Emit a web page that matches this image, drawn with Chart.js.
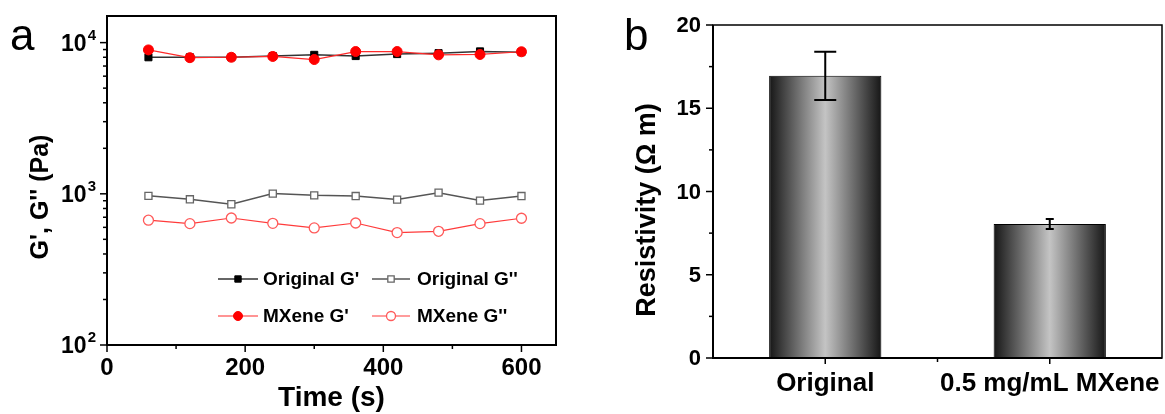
<!DOCTYPE html>
<html><head><meta charset="utf-8">
<script src="https://cdn.jsdelivr.net/npm/chart.js@4.4.1/dist/chart.umd.min.js"></script>
<style>
html,body{margin:0;padding:0;background:#fff;}
#wrap{position:relative;width:1165px;height:414px;overflow:hidden;background:#fff;}
#ca{position:absolute;left:0;top:0;}
#cb{position:absolute;left:580px;top:0;}
</style></head>
<body><div id="wrap"><canvas id="ca" width="580" height="414"></canvas><canvas id="cb" width="585" height="414"></canvas></div>
<script>
// ---- data (panel a) ----
const timeS = [60, 120, 180, 240, 300, 360, 420, 480, 540, 600];
const originalGp = [8000, 8000, 8000, 8150, 8300, 8150, 8400, 8520, 8750, 8650];
const originalGpp = [970, 920, 853, 1003, 977, 967, 916, 1018, 902, 967];
const mxeneGp = [8950, 7950, 8000, 8100, 7730, 8730, 8730, 8300, 8350, 8700];
const mxeneGpp = [669, 635, 692, 638, 595, 641, 554, 565, 635, 689];
const seriesNames = ["Original G'", "Original G''", "MXene G'", "MXene G''"];
const logTicks = [100, 1000, 10000];
const timeTicks = [0, 200, 400, 600];
// ---- data (panel b) ----
const barCategories = ['Original', '0.5 mg/mL MXene'];
const resistivity = [16.95, 8.05];
const resistivityErr = [1.45, 0.3];
const resTicks = [0, 5, 10, 15, 20];

const FONT = '"Liberation Sans", Arial, sans-serif';
const pts = (ys) => timeS.map((t, i) => ({x: t, y: ys[i]}));

function drawSupLabel(ctx, xRight, y, base, exp) {
  ctx.font = 'bold 15px ' + FONT;
  const ew = ctx.measureText(exp).width;
  ctx.textAlign = 'left'; ctx.textBaseline = 'alphabetic';
  ctx.fillText(exp, xRight - ew, y - 3);
  ctx.font = 'bold 23px ' + FONT;
  ctx.textAlign = 'right'; ctx.textBaseline = 'middle';
  ctx.fillText(base, xRight - ew - 1, y + 2);
}

const panelA = {
  id: 'panelA',
  afterDraw(chart) {
    const ctx = chart.ctx;
    const {left, right, top, bottom} = chart.chartArea;
    const xs = chart.scales.x, ys = chart.scales.y;
    ctx.save();
    ctx.fillStyle = '#000'; ctx.strokeStyle = '#000';
    ctx.lineWidth = 2;
    ctx.strokeRect(left, top, right - left, bottom - top);
    // y ticks (log)
    ctx.lineWidth = 1.5;
    for (let d = 0; d < logTicks.length; d++) {
      const dec = logTicks[d];
      for (let m = 1; m <= 9; m++) {
        const v = m * dec;
        if (v > ys.max) break;
        const py = ys.getPixelForValue(v);
        const len = m === 1 ? 7 : 4;
        ctx.beginPath(); ctx.moveTo(left - len, py); ctx.lineTo(left, py); ctx.stroke();
      }
    }
    logTicks.forEach(v => {
      drawSupLabel(ctx, left - 11, ys.getPixelForValue(v), '10', String(Math.round(Math.log10(v))));
    });
    // x ticks
    for (let i = 0; i < timeTicks.length; i++) {
      const px = xs.getPixelForValue(timeTicks[i]);
      ctx.beginPath(); ctx.moveTo(px, bottom); ctx.lineTo(px, bottom + 7); ctx.stroke();
      if (i < timeTicks.length - 1) {
        const mx = xs.getPixelForValue((timeTicks[i] + timeTicks[i + 1]) / 2);
        ctx.beginPath(); ctx.moveTo(mx, bottom); ctx.lineTo(mx, bottom + 4); ctx.stroke();
      }
      ctx.font = 'bold 24px ' + FONT;
      ctx.textAlign = 'center'; ctx.textBaseline = 'middle';
      ctx.fillText(String(timeTicks[i]), px, bottom + 23);
    }
    // axis titles
    ctx.font = 'bold 28px ' + FONT;
    ctx.textAlign = 'center'; ctx.textBaseline = 'middle';
    ctx.fillText('Time (s)', (left + right) / 2, 398);
    ctx.save();
    ctx.translate(41, 197); ctx.rotate(-Math.PI / 2);
    ctx.font = 'bold 25px ' + FONT;
    ctx.fillText("G', G'' (Pa)", 0, 0);
    ctx.restore();
    // panel letter
    ctx.font = '44px ' + FONT; ctx.textAlign = 'left'; ctx.textBaseline = 'alphabetic';
    ctx.fillText('a', 10, 50);
    // legend
    const cols = [[218, 258, 263], [372, 410, 417]];
    const rows = [279, 316];
    chart.data.datasets.forEach((ds, i) => {
      const col = cols[i % 2], ry = rows[Math.floor(i / 2)];
      const cx = (col[0] + col[1]) / 2;
      ctx.strokeStyle = ds.borderColor; ctx.lineWidth = ds.borderWidth;
      ctx.beginPath(); ctx.moveTo(col[0], ry); ctx.lineTo(col[1], ry); ctx.stroke();
      ctx.fillStyle = ds.pointBackgroundColor; ctx.strokeStyle = ds.pointBorderColor;
      ctx.lineWidth = ds.pointBorderWidth;
      ctx.beginPath();
      const r = ds.pointRadius * 0.9;
      if (ds.pointStyle === 'rect') {
        const s = Math.SQRT1_2 * r;
        ctx.rect(cx - s, ry - s, 2 * s, 2 * s);
      } else {
        ctx.arc(cx, ry, r, 0, Math.PI * 2);
      }
      ctx.fill(); ctx.stroke();
      ctx.fillStyle = '#000';
      ctx.font = 'bold 19px ' + FONT; ctx.textAlign = 'left'; ctx.textBaseline = 'middle';
      ctx.fillText(ds.label, col[2], ry + 1);
    });
    ctx.restore();
  }
};

new Chart(document.getElementById('ca'), {
  type: 'line',
  data: {
    datasets: [
      {label: seriesNames[0], data: pts(originalGp), order: 1, borderColor: '#333333', borderWidth: 1.5,
        pointStyle: 'rect', pointRadius: 5, pointBackgroundColor: '#000', pointBorderColor: '#000', pointBorderWidth: 1},
      {label: seriesNames[1], data: pts(originalGpp), order: 2, borderColor: '#555555', borderWidth: 1.5,
        pointStyle: 'rect', pointRadius: 5, pointBackgroundColor: '#fff', pointBorderColor: '#666666', pointBorderWidth: 1.3},
      {label: seriesNames[2], data: pts(mxeneGp), order: 0, borderColor: '#ff2a2a', borderWidth: 1.2,
        pointStyle: 'circle', pointRadius: 5, pointBackgroundColor: '#ff0000', pointBorderColor: '#ff0000', pointBorderWidth: 1},
      {label: seriesNames[3], data: pts(mxeneGpp), order: 3, borderColor: '#ff3b3b', borderWidth: 1.2,
        pointStyle: 'circle', pointRadius: 5, pointBackgroundColor: '#fff', pointBorderColor: '#ff5a5a', pointBorderWidth: 1.3}
    ]
  },
  options: {
    responsive: false, animation: false, devicePixelRatio: 1,
    layout: {padding: {left: 107, right: 24, top: 16, bottom: 69}},
    scales: {
      x: {type: 'linear', min: 0, max: 650, display: false},
      y: {type: 'logarithmic', min: 100, max: 15000, display: false}
    },
    plugins: {legend: {display: false}, tooltip: {enabled: false}}
  },
  plugins: [panelA]
});

const panelB = {
  id: 'panelB',
  afterDatasetsDraw(chart) {
    const ctx = chart.ctx;
    const xs = chart.scales.x, ys = chart.scales.y;
    const caps = [11, 4];
    ctx.save(); ctx.strokeStyle = '#000'; ctx.lineWidth = 2;
    resistivity.forEach((v, i) => {
      const px = xs.getPixelForValue(i);
      const yT = ys.getPixelForValue(v + resistivityErr[i]);
      const yB = ys.getPixelForValue(v - resistivityErr[i]);
      ctx.beginPath();
      ctx.moveTo(px, yT); ctx.lineTo(px, yB);
      ctx.moveTo(px - caps[i], yT); ctx.lineTo(px + caps[i], yT);
      ctx.moveTo(px - caps[i], yB); ctx.lineTo(px + caps[i], yB);
      ctx.stroke();
    });
    ctx.restore();
  },
  afterDraw(chart) {
    const ctx = chart.ctx;
    const {left, right, top, bottom} = chart.chartArea;
    const xs = chart.scales.x, ys = chart.scales.y;
    ctx.save();
    ctx.strokeStyle = '#000'; ctx.fillStyle = '#000';
    ctx.lineWidth = 1.5;
    ctx.strokeRect(left, top, right - left, bottom - top);
    ctx.lineWidth = 2;
    ctx.beginPath(); ctx.moveTo(left, top); ctx.lineTo(left, bottom); ctx.lineTo(right, bottom); ctx.stroke();
    ctx.lineWidth = 1.5;
    for (let i = 0; i < resTicks.length; i++) {
      const py = ys.getPixelForValue(resTicks[i]);
      ctx.beginPath(); ctx.moveTo(left - 7, py); ctx.lineTo(left, py); ctx.stroke();
      if (i < resTicks.length - 1) {
        const my = ys.getPixelForValue((resTicks[i] + resTicks[i + 1]) / 2);
        ctx.beginPath(); ctx.moveTo(left - 4, my); ctx.lineTo(left, my); ctx.stroke();
      }
      ctx.font = 'bold 22px ' + FONT; ctx.textAlign = 'right'; ctx.textBaseline = 'middle';
      ctx.fillText(String(resTicks[i]), left - 12, py + 1);
    }
    const n = chart.data.labels.length;
    const cw = (right - left) / n;
    for (let i = 0; i < n; i++) {
      const px = xs.getPixelForValue(i);
      ctx.beginPath(); ctx.moveTo(px, bottom); ctx.lineTo(px, bottom + 6); ctx.stroke();
      if (i > 0) {
        const bx = px - cw / 2;
        ctx.beginPath(); ctx.moveTo(bx, bottom); ctx.lineTo(bx, bottom + 4); ctx.stroke();
      }
      ctx.font = 'bold 26px ' + FONT; ctx.textAlign = 'center'; ctx.textBaseline = 'middle';
      ctx.fillText(chart.data.labels[i], px, bottom + 26);
    }
    ctx.save();
    ctx.translate(68, 210); ctx.rotate(-Math.PI / 2);
    ctx.font = 'bold 27px ' + FONT; ctx.textAlign = 'center'; ctx.textBaseline = 'middle';
    ctx.fillText('Resistivity (\u03A9 m)', 0, 0);
    ctx.restore();
    ctx.font = '44px ' + FONT; ctx.textAlign = 'left'; ctx.textBaseline = 'alphabetic';
    ctx.fillText('b', 44, 50);
    ctx.restore();
  }
};

new Chart(document.getElementById('cb'), {
  type: 'bar',
  data: {
    labels: barCategories,
    datasets: [{
      label: 'Resistivity',
      data: resistivity,
      borderColor: '#000', borderWidth: 1,
      barPercentage: 1, categoryPercentage: 0.5,
      backgroundColor: (c) => {
        const chart = c.chart, xs = chart.scales && chart.scales.x;
        if (!xs || c.dataIndex === undefined || !chart.chartArea) return '#888';
        const cx = xs.getPixelForValue(c.dataIndex);
        const half = xs.width / chart.data.labels.length * 0.5 / 2;
        const g = chart.ctx.createLinearGradient(cx - half, 0, cx + half, 0);
        g.addColorStop(0, '#161616');
        g.addColorStop(0.5, '#c4c4c4');
        g.addColorStop(1, '#161616');
        return g;
      }
    }]
  },
  options: {
    responsive: false, animation: false, devicePixelRatio: 1,
    layout: {padding: {left: 133, right: 3, top: 25, bottom: 56}},
    scales: {
      x: {display: false},
      y: {min: 0, max: 20, display: false}
    },
    plugins: {legend: {display: false}, tooltip: {enabled: false}}
  },
  plugins: [panelB]
});
</script>
</body></html>
